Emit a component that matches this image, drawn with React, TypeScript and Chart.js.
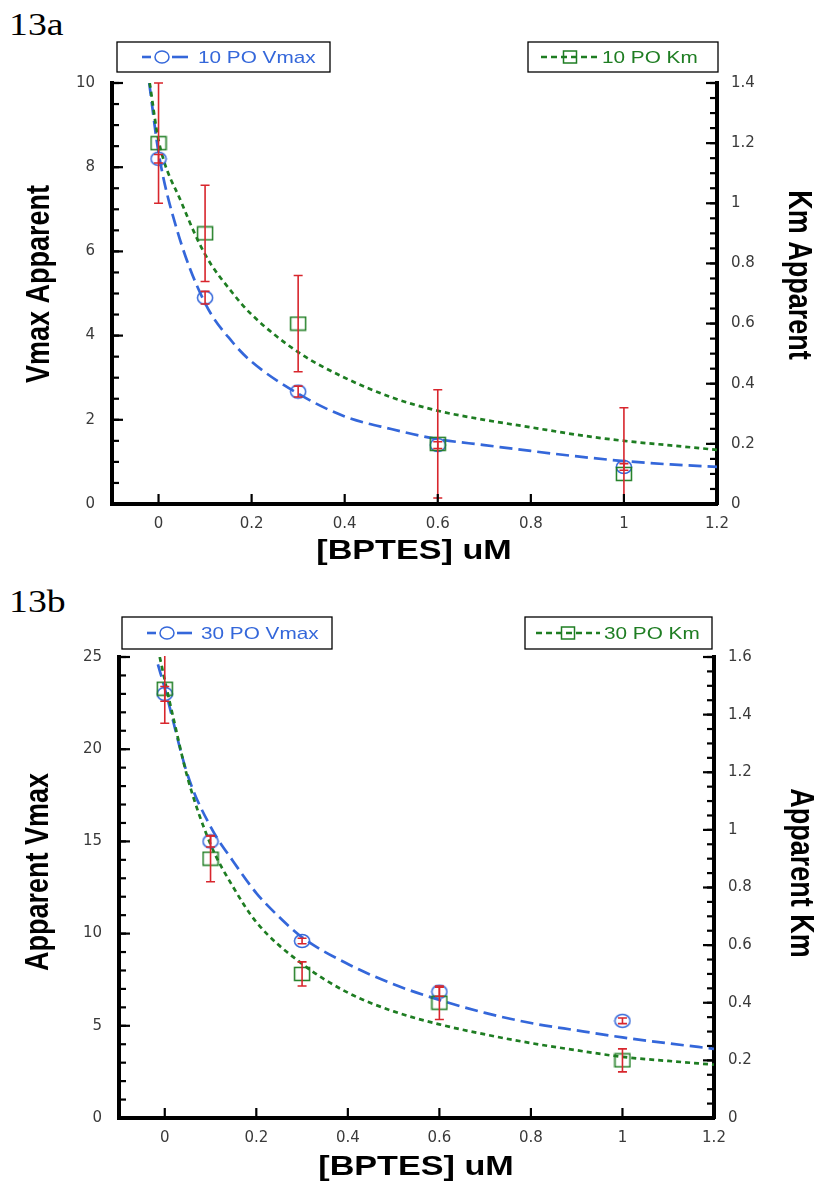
import React, { useEffect, useRef } from 'react';
import { Chart, registerables } from 'chart.js';
Chart.register(...registerables);

const BLUE = '#3467da';
const GREEN = '#1e7d22';
const RED = '#d8262d';

// ---------- Panel 13a ----------
const concA = [0, 0.1, 0.3, 0.6, 1];
const vmaxA = [8.2, 4.9, 2.67, 1.4, 0.88];
const vmaxErrA = [0.1, 0.15, 0.13, 0.08, 0.08];
const kmA = [1.2, 0.9, 0.6, 0.2, 0.1];
const kmErrA = [0.2, 0.16, 0.16, 0.18, 0.22];
const fitXVmaxA = [-0.02, 0, 0.04, 0.1, 0.16, 0.2, 0.3, 0.4, 0.5, 0.6, 0.7, 0.8, 0.9, 1.0, 1.1, 1.2];
const fitVmaxA = [10, 8.35, 6.5, 4.77, 3.83, 3.38, 2.62, 2.08, 1.78, 1.54, 1.4, 1.26, 1.13, 1.02, 0.94, 0.88];
const fitXKmA = [-0.019, 0, 0.05, 0.1, 0.16, 0.2, 0.3, 0.4, 0.5, 0.6, 0.7, 0.8, 0.9, 1.0, 1.1, 1.2];
const fitKmA = [1.4, 1.21, 1.0, 0.83, 0.7, 0.63, 0.505, 0.42, 0.355, 0.31, 0.28, 0.255, 0.23, 0.21, 0.195, 0.18];
const yTicksA = [0, 2, 4, 6, 8, 10];
const y1TicksA = [0, 0.2, 0.4, 0.6, 0.8, 1, 1.2, 1.4];

// ---------- Panel 13b ----------
const concB = [0, 0.1, 0.3, 0.6, 1];
const vmaxB = [23.0, 15.0, 9.6, 6.85, 5.27];
const vmaxErrB = [0.4, 0.3, 0.15, 0.25, 0.15];
const kmB = [1.49, 0.9, 0.5, 0.4, 0.2];
const kmErrB = [0.12, 0.08, 0.042, 0.058, 0.04];
const fitXVmaxB = [-0.015, 0, 0.05, 0.1, 0.15, 0.2, 0.25, 0.3, 0.4, 0.5, 0.6, 0.7, 0.8, 0.9, 1.0, 1.1, 1.2];
const fitVmaxB = [24.6, 23.3, 18.6, 15.8, 13.9, 12.2, 10.9, 9.8, 8.35, 7.25, 6.4, 5.7, 5.15, 4.75, 4.37, 4.05, 3.75];
const fitXKmB = [-0.011, 0, 0.02, 0.05, 0.1, 0.15, 0.2, 0.3, 0.4, 0.5, 0.6, 0.7, 0.8, 0.9, 1.0, 1.1, 1.2];
const fitKmB = [1.6, 1.52, 1.38, 1.18, 0.95, 0.8, 0.68, 0.535, 0.435, 0.37, 0.325, 0.29, 0.26, 0.235, 0.212, 0.198, 0.185];
const yTicksB = [0, 5, 10, 15, 20, 25];
const y1TicksB = [0, 0.2, 0.4, 0.6, 0.8, 1, 1.2, 1.4, 1.6];

const xTicks = [0, 0.2, 0.4, 0.6, 0.8, 1, 1.2];

const STRETCH = 1.22;
const SANS = "'Liberation Sans', Arial, sans-serif";
const TICK_FONT = { family: "'DejaVu Sans', 'Liberation Sans', sans-serif", size: 15 };

function makeMarker(kind: string, color: string): HTMLCanvasElement {
  const c = document.createElement('canvas');
  const w = 18;
  const h = 16;
  c.width = w;
  c.height = h;
  const g = c.getContext('2d') as CanvasRenderingContext2D;
  g.strokeStyle = color;
  g.lineWidth = 1.5;
  if (kind === 'circle') {
    g.beginPath();
    g.ellipse(w / 2, h / 2, 7.6, 6.6, 0, 0, Math.PI * 2);
    g.stroke();
  } else {
    g.strokeRect(w / 2 - 7.5, h / 2 - 6.5, 15, 13);
  }
  return c;
}

const inwardTicks = {
  id: 'inwardTicks',
  afterDraw(chart: any, _args: any, opts: any) {
    const { ctx, chartArea: ca } = chart;
    ctx.save();
    ctx.strokeStyle = '#000';
    ctx.lineWidth = 2.2;
    for (const spec of opts.axes || []) {
      const s = chart.scales[spec.id];
      const draw = (v: number, len: number) => {
        const p = s.getPixelForValue(v);
        ctx.beginPath();
        if (spec.id === 'x') {
          ctx.moveTo(p, ca.bottom);
          ctx.lineTo(p, ca.bottom - len);
        } else if (s.position === 'left') {
          ctx.moveTo(ca.left, p);
          ctx.lineTo(ca.left + len, p);
        } else {
          ctx.moveTo(ca.right, p);
          ctx.lineTo(ca.right - len, p);
        }
        ctx.stroke();
      };
      if (spec.minor) {
        const n = Math.round((s.max - s.min) / spec.minor);
        for (let i = 0; i <= n; i++) draw(s.min + i * spec.minor, spec.minorLen);
      }
      s.ticks.forEach((t: any) => draw(t.value, spec.majorLen));
    }
    ctx.restore();
  },
};

const errorBars = {
  id: 'errorBars',
  afterDatasetsDraw(chart: any) {
    const { ctx, chartArea: ca } = chart;
    ctx.save();
    ctx.beginPath();
    ctx.rect(ca.left, ca.top - 1, ca.right - ca.left, ca.bottom - ca.top + 1);
    ctx.clip();
    ctx.strokeStyle = RED;
    ctx.lineWidth = 1.6;
    chart.data.datasets.forEach((ds: any) => {
      if (!ds.errors) return;
      const ys = chart.scales[ds.yAxisID];
      const xs = chart.scales.x;
      ds.data.forEach((pt: any, j: number) => {
        const e = ds.errors[j];
        const x = xs.getPixelForValue(pt.x);
        const yt = ys.getPixelForValue(pt.y + e);
        const yb = ys.getPixelForValue(pt.y - e);
        ctx.beginPath();
        ctx.moveTo(x, yt);
        ctx.lineTo(x, yb);
        ctx.moveTo(x - 4.5, yt);
        ctx.lineTo(x + 4.5, yt);
        ctx.moveTo(x - 4.5, yb);
        ctx.lineTo(x + 4.5, yb);
        ctx.stroke();
      });
    });
    ctx.restore();
  },
};

const boxLegend = {
  id: 'boxLegend',
  afterDraw(chart: any, _args: any, opts: any) {
    const { ctx } = chart;
    ctx.save();
    for (const it of opts.items || []) {
      const [x1, y1, x2, y2] = it.box;
      ctx.setLineDash([]);
      ctx.strokeStyle = '#000';
      ctx.lineWidth = 1.3;
      ctx.strokeRect(x1, y1, x2 - x1, y2 - y1);
      const cy = (y1 + y2) / 2;
      ctx.strokeStyle = it.color;
      ctx.lineWidth = 2.6;
      ctx.setLineDash(it.dash);
      for (const seg of it.segments) {
        ctx.beginPath();
        ctx.moveTo(seg[0], cy);
        ctx.lineTo(seg[1], cy);
        ctx.stroke();
      }
      ctx.setLineDash([]);
      ctx.lineWidth = 1.5;
      const mx = it.mx;
      if (it.marker === 'circle') {
        ctx.fillStyle = '#fff';
        ctx.beginPath();
        ctx.ellipse(mx, cy, 7, 6, 0, 0, Math.PI * 2);
        ctx.fill();
        ctx.stroke();
      } else {
        ctx.strokeRect(mx - 6.5, cy - 6, 13, 12);
      }
      ctx.translate(it.tx, cy + 1);
      ctx.scale(STRETCH, 1);
      ctx.fillStyle = it.color;
      ctx.font = `17px ${SANS}`;
      ctx.textBaseline = 'middle';
      ctx.textAlign = 'left';
      ctx.fillText(it.text, 0, 0);
      ctx.setTransform(1, 0, 0, 1, 0, 0);
    }
    ctx.restore();
  },
};

const axisTitles = {
  id: 'axisTitles',
  afterDraw(chart: any, _args: any, opts: any) {
    const { ctx } = chart;
    for (const t of opts.items || []) {
      ctx.save();
      ctx.translate(t.x, t.y);
      ctx.rotate(t.rot);
      ctx.scale(t.sx, t.sy);
      ctx.font = t.font;
      ctx.fillStyle = '#000';
      ctx.textAlign = 'center';
      ctx.textBaseline = 'middle';
      ctx.fillText(t.text, 0, 0);
      ctx.restore();
    }
  },
};

type PanelProps = {
  top: number;
  height: number;
  area: { left: number; right: number; top: number; bottom: number };
  conc: number[];
  vmax: number[];
  vmaxErr: number[];
  km: number[];
  kmErr: number[];
  fitXV: number[];
  fitV: number[];
  fitXK: number[];
  fitK: number[];
  yTicks: number[];
  y1Ticks: number[];
  yMax: number;
  y1Max: number;
  yMinor: number;
  y1Minor: number;
  yTitle: string;
  y1Title: string;
  titlePos: { yx: number; yy: number; y1x: number; y1y: number; xx: number; xy: number };
  vLabel: string;
  kLabel: string;
  legend: any[];
};

function Panel(p: PanelProps) {
  const ref = useRef<HTMLCanvasElement | null>(null);
  useEffect(() => {
    const W = 822;
    const H = p.height;
    const a = p.area;
    const T = p.top;
    const leftW = a.left;
    const rightW = W - a.right;
    const bottomH = T + H - a.bottom;
    const padTop = a.top - T;
    const tp = p.titlePos;
    const cfg: any = {
      type: 'line',
      data: {
        datasets: [
          {
            label: p.vLabel + ' fit',
            data: p.fitXV.map((x, i) => ({ x, y: p.fitV[i] })),
            yAxisID: 'y',
            borderColor: BLUE,
            borderWidth: 2.7,
            borderDash: [13, 6],
            pointRadius: 0,
            cubicInterpolationMode: 'monotone',
            fill: false,
            order: 3,
          },
          {
            label: p.kLabel + ' fit',
            data: p.fitXK.map((x, i) => ({ x, y: p.fitK[i] })),
            yAxisID: 'y1',
            borderColor: GREEN,
            borderWidth: 2.7,
            borderDash: [5, 4],
            pointRadius: 0,
            cubicInterpolationMode: 'monotone',
            fill: false,
            order: 2,
          },
          {
            label: p.vLabel,
            data: p.conc.map((x, i) => ({ x, y: p.vmax[i] })),
            errors: p.vmaxErr,
            yAxisID: 'y',
            showLine: false,
            pointStyle: makeMarker('circle', BLUE),
            pointRadius: 8,
            borderColor: BLUE,
            order: 1,
          },
          {
            label: p.kLabel,
            data: p.conc.map((x, i) => ({ x, y: p.km[i] })),
            errors: p.kmErr,
            yAxisID: 'y1',
            showLine: false,
            pointStyle: makeMarker('rect', GREEN),
            pointRadius: 8,
            borderColor: GREEN,
            order: 0,
          },
        ],
      },
      options: {
        animation: false,
        responsive: false,
        maintainAspectRatio: false,
        events: [],
        layout: { padding: { top: padTop, left: 0, right: 0, bottom: 0 } },
        plugins: {
          legend: { display: false },
          tooltip: { enabled: false },
          inwardTicks: {
            axes: [
              { id: 'x', majorLen: 10 },
              { id: 'y', majorLen: 11, minor: p.yMinor, minorLen: 7 },
              { id: 'y1', majorLen: 11, minor: p.y1Minor, minorLen: 7 },
            ],
          },
          boxLegend: { items: p.legend },
          axisTitles: {
            items: [
              { text: p.yTitle, x: tp.yx, y: tp.yy - T, rot: -Math.PI / 2, sx: 1, sy: STRETCH, font: `bold 27px ${SANS}` },
              { text: p.y1Title, x: tp.y1x, y: tp.y1y - T, rot: Math.PI / 2, sx: 1, sy: STRETCH, font: `bold 27px ${SANS}` },
              { text: '[BPTES] uM', x: tp.xx, y: tp.xy - T, rot: 0, sx: STRETCH, sy: 1, font: `bold 28px ${SANS}` },
            ],
          },
        },
        scales: {
          x: {
            type: 'linear',
            min: -0.1,
            max: 1.2,
            afterBuildTicks: (s: any) => {
              s.ticks = xTicks.map((v) => ({ value: v }));
            },
            afterFit: (s: any) => {
              s.height = bottomH;
            },
            grid: { display: false, drawTicks: false },
            border: { display: true, color: '#000', width: 4 },
            ticks: { font: TICK_FONT, color: '#3a3a3a', padding: 11, maxRotation: 0, callback: (v: any) => String(v) },
            title: { display: false },
          },
          y: {
            type: 'linear',
            position: 'left',
            min: 0,
            max: p.yMax,
            afterBuildTicks: (s: any) => {
              s.ticks = p.yTicks.map((v) => ({ value: v }));
            },
            afterFit: (s: any) => {
              s.width = leftW;
            },
            grid: { display: false, drawTicks: false },
            border: { display: true, color: '#000', width: 4 },
            ticks: { font: TICK_FONT, color: '#3a3a3a', padding: 17, callback: (v: any) => String(v) },
            title: { display: false },
          },
          y1: {
            type: 'linear',
            position: 'right',
            min: 0,
            max: p.y1Max,
            afterBuildTicks: (s: any) => {
              s.ticks = p.y1Ticks.map((v) => ({ value: v }));
            },
            afterFit: (s: any) => {
              s.width = rightW;
            },
            grid: { display: false, drawTicks: false },
            border: { display: true, color: '#000', width: 4 },
            ticks: { font: TICK_FONT, color: '#3a3a3a', padding: 14, callback: (v: any) => String(v) },
            title: { display: false },
          },
        },
      },
      plugins: [inwardTicks, errorBars, boxLegend, axisTitles],
    };
    const chart = new Chart(ref.current as HTMLCanvasElement, cfg);
    return () => chart.destroy();
  }, []);
  return (
    <canvas
      ref={ref}
      width={822}
      height={p.height}
      style={{ position: 'absolute', left: 0, top: p.top, width: 822, height: p.height }}
    />
  );
}

const panelLabelStyle: React.CSSProperties = {
  position: 'absolute',
  left: 9,
  fontFamily: "'Liberation Serif', 'DejaVu Serif', serif",
  fontSize: 32,
  lineHeight: '36px',
  color: '#000',
  transform: 'scaleX(1.18)',
  transformOrigin: 'left top',
};

export default function App() {
  return (
    <div style={{ position: 'fixed', left: 0, top: 0, width: 822, height: 1186, background: '#fff', overflow: 'hidden' }}>
      <div style={{ ...panelLabelStyle, top: 6 }}>13a</div>
      <Panel
        top={36}
        height={540}
        area={{ left: 112, right: 717, top: 83, bottom: 504 }}
        conc={concA}
        vmax={vmaxA}
        vmaxErr={vmaxErrA}
        km={kmA}
        kmErr={kmErrA}
        fitXV={fitXVmaxA}
        fitV={fitVmaxA}
        fitXK={fitXKmA}
        fitK={fitKmA}
        yTicks={yTicksA}
        y1Ticks={y1TicksA}
        yMax={10}
        y1Max={1.4}
        yMinor={0.5}
        y1Minor={0.05}
        yTitle="Vmax Apparent"
        y1Title="Km Apparent"
        titlePos={{ yx: 40, yy: 284, y1x: 798, y1y: 275, xx: 414, xy: 551 }}
        vLabel="10 PO Vmax"
        kLabel="10 PO Km"
        legend={[
          { box: [117, 6, 330, 36], segments: [[142, 151], [172, 188]], dash: [], marker: 'circle', mx: 162, color: BLUE, text: '10 PO Vmax', tx: 198 },
          { box: [528, 6, 718, 36], segments: [[541, 597]], dash: [6, 4], marker: 'rect', mx: 570, color: GREEN, text: '10 PO Km', tx: 602 },
        ]}
      />
      <div style={{ ...panelLabelStyle, top: 583 }}>13b</div>
      <Panel
        top={606}
        height={580}
        area={{ left: 119, right: 714, top: 657, bottom: 1118 }}
        conc={concB}
        vmax={vmaxB}
        vmaxErr={vmaxErrB}
        km={kmB}
        kmErr={kmErrB}
        fitXV={fitXVmaxB}
        fitV={fitVmaxB}
        fitXK={fitXKmB}
        fitK={fitKmB}
        yTicks={yTicksB}
        y1Ticks={y1TicksB}
        yMax={25}
        y1Max={1.6}
        yMinor={1}
        y1Minor={0.05}
        yTitle="Apparent Vmax"
        y1Title="Apparent Km"
        titlePos={{ yx: 39, yy: 872, y1x: 800, y1y: 873, xx: 416, xy: 1167 }}
        vLabel="30 PO Vmax"
        kLabel="30 PO Km"
        legend={[
          { box: [122, 11, 332, 43], segments: [[147, 156], [177, 192]], dash: [], marker: 'circle', mx: 167, color: BLUE, text: '30 PO Vmax', tx: 201 },
          { box: [525, 11, 712, 43], segments: [[536, 600]], dash: [6, 4], marker: 'rect', mx: 568, color: GREEN, text: '30 PO Km', tx: 604 },
        ]}
      />
    </div>
  );
}
